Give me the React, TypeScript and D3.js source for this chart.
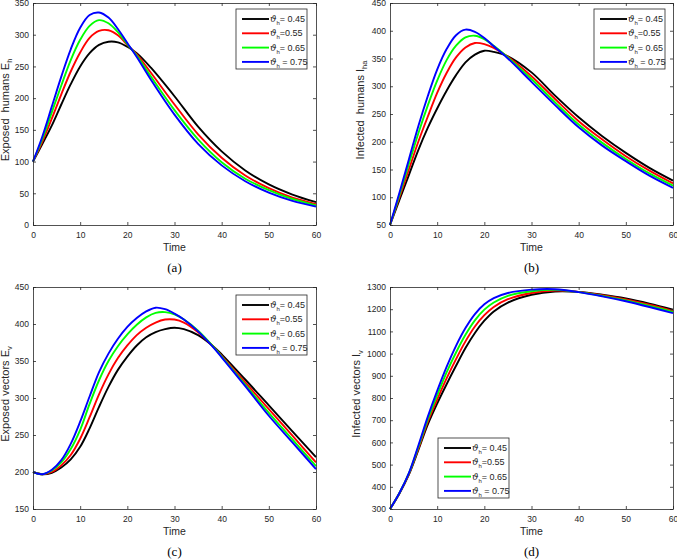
import { useEffect, useRef } from 'react';
import * as d3 from 'd3';

const W = 677;
const H = 559;

// sample times shared by every series
const timesAB = [0, 2, 4, 6, 8, 10, 12, 14, 16, 18, 20, 22, 25, 30, 35, 40, 45, 50, 55, 60];
const timesC = [0, 2, 4, 6, 8, 10, 12, 14, 16, 18, 20, 22, 24, 26, 28, 30, 32, 35, 38, 40, 45, 50, 55, 60];
const timesD = [0, 2, 4, 6, 8, 10, 12, 14, 16, 18, 20, 22, 25, 30, 35, 40, 45, 50, 55, 60];

const legendLabels = ['= 0.45', '=0.55', '= 0.65', ' = 0.75'];
const seriesColors = ['#000000', '#ff0000', '#00ff00', '#0000ff'];

// (a) exposed humans
const exposedHumans = [
  [100, 128, 157, 190, 222, 250, 271, 284, 289, 288, 281, 271, 248, 203, 155, 116, 86, 64, 48, 36],
  [100, 132, 168, 206, 242, 272, 295, 306, 307, 299, 284, 269, 240, 190, 143, 106, 78, 58, 43, 33],
  [100, 136, 178, 220, 260, 292, 314, 323, 318, 304, 285, 267, 234, 181, 135, 99, 73, 55, 41, 31],
  [100, 140, 187, 234, 277, 311, 331, 335, 327, 309, 287, 265, 229, 174, 128, 94, 69, 51, 38, 29],
];

// (b) infected humans
const infectedHumans = [
  [50, 95, 140, 185, 225, 260, 292, 320, 343, 357, 364, 362, 354, 325, 283, 244, 210, 180, 153, 130],
  [50, 100, 150, 200, 245, 288, 324, 352, 370, 378, 376, 369, 353, 318, 277, 237, 204, 174, 148, 125],
  [50, 104, 160, 215, 265, 310, 347, 373, 388, 391, 385, 373, 352, 313, 271, 231, 198, 169, 143, 121],
  [50, 108, 168, 228, 282, 330, 367, 392, 402, 398, 387, 372, 350, 308, 266, 226, 193, 165, 139, 117],
];

// (c) exposed vectors
const exposedVectors = [
  [200, 197, 199, 206, 217, 234, 259, 288, 315, 338, 356, 371, 382, 389, 393, 395, 393, 385, 371, 359, 325, 290, 255, 220],
  [200, 197, 200, 209, 223, 245, 274, 305, 332, 354, 371, 385, 395, 402, 406, 406, 402, 389, 371, 357, 321, 285, 249, 213],
  [200, 197, 202, 213, 231, 257, 292, 324, 350, 370, 386, 399, 409, 415, 416, 413, 406, 391, 371, 356, 318, 280, 244, 208],
  [200, 197, 203, 216, 238, 268, 302, 335, 360, 380, 396, 408, 417, 422, 420, 414, 406, 390, 370, 355, 316, 276, 240, 204],
];

// (d) infected vectors
const infectedVectors = [
  [300, 370, 455, 565, 680, 775, 862, 945, 1025, 1093, 1148, 1190, 1230, 1265, 1280, 1278, 1265, 1248, 1225, 1198],
  [300, 371, 457, 571, 692, 793, 888, 975, 1055, 1122, 1173, 1210, 1245, 1273, 1284, 1278, 1263, 1244, 1220, 1192],
  [300, 372, 460, 578, 703, 812, 915, 1005, 1085, 1150, 1198, 1230, 1260, 1281, 1287, 1277, 1260, 1240, 1215, 1188],
  [300, 372, 462, 585, 715, 832, 940, 1035, 1115, 1178, 1222, 1250, 1273, 1288, 1290, 1277, 1258, 1236, 1210, 1182],
];

interface Panel {
  times: number[];
  series: number[][];
  yDomain: [number, number];
  yStep: number;
  yLabel: string;
  ySub: string;
  caption: string;
  box: { left: number; right: number; top: number; bottom: number };
  legend: { x: number; y: number };
  yLabelX: number;
}

const panels: Panel[] = [
  {
    times: timesAB, series: exposedHumans, yDomain: [0, 350], yStep: 50,
    yLabel: 'Exposed  humans E', ySub: 'h', caption: '(a)',
    box: { left: 33, right: 316, top: 3, bottom: 225 },
    legend: { x: 236, y: 9 }, yLabelX: 9,
  },
  {
    times: timesAB, series: infectedHumans, yDomain: [50, 450], yStep: 50,
    yLabel: 'Infected  humans I', ySub: 'ha', caption: '(b)',
    box: { left: 390, right: 673, top: 3, bottom: 225 },
    legend: { x: 594, y: 9 }, yLabelX: 364,
  },
  {
    times: timesC, series: exposedVectors, yDomain: [150, 450], yStep: 50,
    yLabel: 'Exposed vectors E', ySub: 'v', caption: '(c)',
    box: { left: 33, right: 316, top: 287, bottom: 509 },
    legend: { x: 236, y: 295 }, yLabelX: 9,
  },
  {
    times: timesD, series: infectedVectors, yDomain: [300, 1300], yStep: 100,
    yLabel: 'Infected vectors I', ySub: 'v', caption: '(d)',
    box: { left: 390, right: 673, top: 287, bottom: 509 },
    legend: { x: 438, y: 438 }, yLabelX: 360,
  },
];

const axisColor = '#262626';
const sans = '"Liberation Sans", Arial, Helvetica, sans-serif';

export default function App() {
  const svgRef = useRef<SVGSVGElement | null>(null);

  useEffect(() => {
    const svg = d3.select(svgRef.current);
    svg.selectAll('*').remove();

    panels.forEach(p => {
      const { left, right, top, bottom } = p.box;
      const x = d3.scaleLinear().domain([0, 60]).range([left, right]);
      const y = d3.scaleLinear().domain(p.yDomain).range([bottom, top]);
      const yTicks = d3.range(p.yDomain[0], p.yDomain[1] + 1, p.yStep);
      const xTicks = d3.range(0, 61, 10);

      const g = svg.append('g');

      g.append('rect')
        .attr('x', left).attr('y', top)
        .attr('width', right - left).attr('height', bottom - top)
        .attr('fill', '#fff');

      // curves
      const line = d3.line<number>()
        .x((_, i) => x(p.times[i]))
        .y(d => y(d))
        .curve(d3.curveCatmullRom.alpha(0.5));

      p.series.forEach((s, i) => {
        g.append('path')
          .attr('d', line(s))
          .attr('fill', 'none')
          .attr('stroke', seriesColors[i])
          .attr('stroke-width', 1.9);
      });

      const styleAxis = (sel: d3.Selection<SVGGElement, unknown, null, undefined>) => {
        sel.select('.domain').attr('stroke', axisColor).attr('stroke-width', 0.8);
        sel.selectAll('.tick line').attr('stroke', axisColor).attr('stroke-width', 0.8);
        sel.selectAll('.tick text')
          .attr('fill', axisColor)
          .style('font-family', sans)
          .style('font-size', '8.5px');
      };

      const bottomAxis = g.append('g')
        .attr('transform', `translate(0,${bottom})`)
        .call(d3.axisBottom(x).tickValues(xTicks).tickSizeInner(-3).tickSizeOuter(0).tickPadding(7).tickFormat(d3.format('d')));
      styleAxis(bottomAxis);

      const topAxis = g.append('g')
        .attr('transform', `translate(0,${top})`)
        .call(d3.axisTop(x).tickValues(xTicks).tickSizeInner(-3).tickSizeOuter(0).tickFormat(() => ''));
      styleAxis(topAxis);

      const leftAxis = g.append('g')
        .attr('transform', `translate(${left},0)`)
        .call(d3.axisLeft(y).tickValues(yTicks).tickSizeInner(-3).tickSizeOuter(0).tickPadding(4).tickFormat(d3.format('d')));
      styleAxis(leftAxis);

      const rightAxis = g.append('g')
        .attr('transform', `translate(${right},0)`)
        .call(d3.axisRight(y).tickValues(yTicks).tickSizeInner(-3).tickSizeOuter(0).tickFormat(() => ''));
      styleAxis(rightAxis);

      // x label
      g.append('text')
        .attr('x', (left + right) / 2)
        .attr('y', bottom + 26)
        .attr('text-anchor', 'middle')
        .attr('fill', axisColor)
        .style('font-family', sans)
        .style('font-size', '10.5px')
        .text('Time');

      // y label
      const yl = g.append('text')
        .attr('transform', `translate(${p.yLabelX},${(top + bottom) / 2 - 4}) rotate(-90)`)
        .attr('text-anchor', 'middle')
        .attr('fill', axisColor)
        .style('font-family', sans)
        .style('font-size', '11px')
        .attr('xml:space', 'preserve');
      yl.append('tspan').text(p.yLabel);
      yl.append('tspan').attr('dy', 3).style('font-size', '7.5px').text(p.ySub);

      // caption
      g.append('text')
        .attr('x', (left + right) / 2)
        .attr('y', bottom + 47)
        .attr('text-anchor', 'middle')
        .attr('fill', '#000')
        .style('font-family', '"Liberation Serif", "Times New Roman", serif')
        .style('font-size', '13px')
        .text(p.caption);

      // legend
      const lg = g.append('g').attr('transform', `translate(${p.legend.x},${p.legend.y})`);
      lg.append('rect')
        .attr('width', 71).attr('height', 60)
        .attr('fill', '#fff')
        .attr('stroke', axisColor)
        .attr('stroke-width', 0.8);
      legendLabels.forEach((lab, i) => {
        const ry = 10 + i * 14.3;
        lg.append('line')
          .attr('x1', 6).attr('x2', 33)
          .attr('y1', ry).attr('y2', ry)
          .attr('stroke', seriesColors[i])
          .attr('stroke-width', 1.9);
        const t = lg.append('text')
          .attr('x', 34).attr('y', ry + 3)
          .attr('fill', axisColor)
          .style('font-family', sans)
          .style('font-size', '9px')
          .attr('xml:space', 'preserve');
        t.append('tspan').style('font-style', 'italic').style('font-family', '"DejaVu Serif", serif').text('\u03d1');
        t.append('tspan').attr('dy', 3).style('font-size', '6px').text('h');
        t.append('tspan').attr('dy', -3).text(lab);
      });
    });
  }, []);

  return (
    <div style={{ position: 'absolute', left: 0, top: 0 }}>
      <svg ref={svgRef} width={W} height={H} style={{ display: 'block', background: '#fff' }} />
    </div>
  );
}
